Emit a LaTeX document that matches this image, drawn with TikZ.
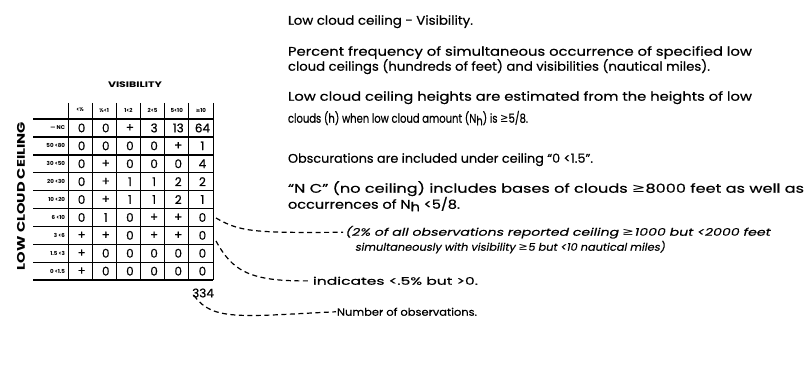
\documentclass[tikz,border=0pt]{standalone}
\usepackage{fontspec}
\usepackage{graphicx}
\setmainfont{Poppins}
\newfontfamily\bodyf[FakeBold=0.5]{Poppins}
\newfontfamily\notef[FakeSlant=0.18,FakeBold=0.3]{Poppins}
\newfontfamily\symf{DejaVu Sans}
\newcommand\myge{{\symf ≥}}
\newcommand\subh{\raisebox{-2.5pt}{h}}
\newcommand\fitw[2]{\resizebox{#1pt}{\height}{#2}}
\tikzset{
  body/.style={anchor=mid west, font=\fontsize{12.5}{14}\bodyf},
  notetext/.style={anchor=mid west, font=\fontsize{10.5}{13}\notef},
  thin/.style={anchor=mid west, font=\fontsize{10.5}{13}\bodyf},
  celltext/.style={font=\fontsize{12}{12}\bodyf},
  tinytext/.style={font=\fontsize{5.5}{6}\bfseries},
  leader/.style={draw, line width=1.2pt, dash pattern=on 5pt off 3.5pt},
  rulel/.style={line width=1.4pt},
}
\begin{document}
\begin{tikzpicture}[x=1pt,y=-1pt, every node/.style={inner sep=0pt, outer sep=0pt}]
\useasboundingbox (0,0) rectangle (808,385);
\fill[white] (0,0) rectangle (808,385);

% ---------- right-hand text ----------
\node[body] (t0) at (288,22) {\fitw{185}{Low cloud ceiling - Visibility.}};
\node[body] (t1) at (288,53) {\fitw{464}{Percent frequency of simultaneous occurrence of specified low}};
\node[body] (t2) at (288,68) {\fitw{422}{cloud ceilings (hundreds of feet) and visibilities (nautical miles).}};
\node[body] (t3) at (288,98) {\fitw{464}{Low cloud ceiling heights are estimated from the heights of low}};
\node[body] (t4) at (288,120) {\fitw{240}{clouds (h) when low cloud amount (N\subh) is \myge5/8.}};
\node[body] (t5) at (288,160) {\fitw{305}{Obscurations are included under ceiling “0 <1.5”.}};
\node[body] (t6) at (288,190) {\fitw{516}{“N C” (no ceiling) includes bases of clouds \myge8000 feet as well as}};
\node[body] (t7) at (288,206) {\fitw{172}{occurrences of N\subh{} <5/8.}};

\node[notetext] (n1) at (345,233) {\fitw{425}{(2\% of all observations reported ceiling \myge1000 but <2000 feet}};
\node[notetext] (n2) at (355,248) {\fitw{310}{simultaneously with visibility \myge5 but <10 nautical miles)}};
\node[thin] (ind) at (313,282) {\fitw{165}{indicates <.5\% but >0.}};
\node[thin] (num) at (337,313) {\fitw{140}{Number of observations.}};

% ---------- table ----------
\node[font=\fontsize{8}{8}\bfseries] (vis) at (135,85) {\fitw{54}{VISIBILITY}};
\node[rotate=90, font=\fontsize{11}{11}\bfseries] (lcc) at (21,196) {\fitw{148}{LOW CLOUD CEILING}};

% header labels
\foreach \h [count=\c] in {<½,½<1,1<2,2<5,5<10,\myge10}{
  \node[tinytext] (h\c) at ({68+24.17*(\c-0.5)},110) {\h};
}
% header bars
\foreach \c in {0,...,6}{
  \draw[line width=1pt] ({68+24.17*\c},103) -- ({68+24.17*\c},119);
}
% horizontal rules
\foreach \r in {0,...,9}{
  \draw[rulel] (33,{119+17.9*\r}) -- (213,{119+17.9*\r});
}
% vertical rules
\foreach \c in {0,...,6}{
  \draw[line width=1pt] ({68+24.17*\c},119) -- ({68+24.17*\c},280);
}
% row labels
\foreach \l [count=\r] in {--- NC,50 <80,30 <50,20 <30,10 <20,6 <10,3 <6,1.5 <3,0 <1.5}{
  \node[tinytext, anchor=east] (l\r) at (65,{119+17.9*(\r-0.5)}) {\l};
}
% data
\foreach \vals [count=\r] in {{0,0,+,3,13,64},{0,0,0,0,+,1},{0,+,0,0,0,4},{0,+,1,1,2,2},{0,+,1,1,2,1},{0,1,0,+,+,0},{+,+,0,+,+,0},{+,0,0,0,0,0},{+,0,0,0,0,0}}{
  \foreach \v [count=\c] in \vals {
    \node[celltext] (d\r-\c) at ({68+24.17*(\c-0.5)+1.5},{119+17.9*(\r-0.5)}) {\v};
  }
}
\node[celltext] (tot) at (203,293) {334};

% ---------- leaders ----------
\coordinate (r6) at (216,218);
\coordinate (r7) at (216,241);
\draw[leader] (r6) .. controls (240,232) and (255,233) .. ([xshift=-2pt]n1.west);
\draw[leader] (r7) .. controls (232,270) and (248,282) .. ([xshift=-2pt]ind.west);
\draw[leader] ([xshift=2pt,yshift=2pt]tot.south west) .. controls (212,322) and (245,316) .. ([xshift=-1pt]num.west);
\end{tikzpicture}
\end{document}
